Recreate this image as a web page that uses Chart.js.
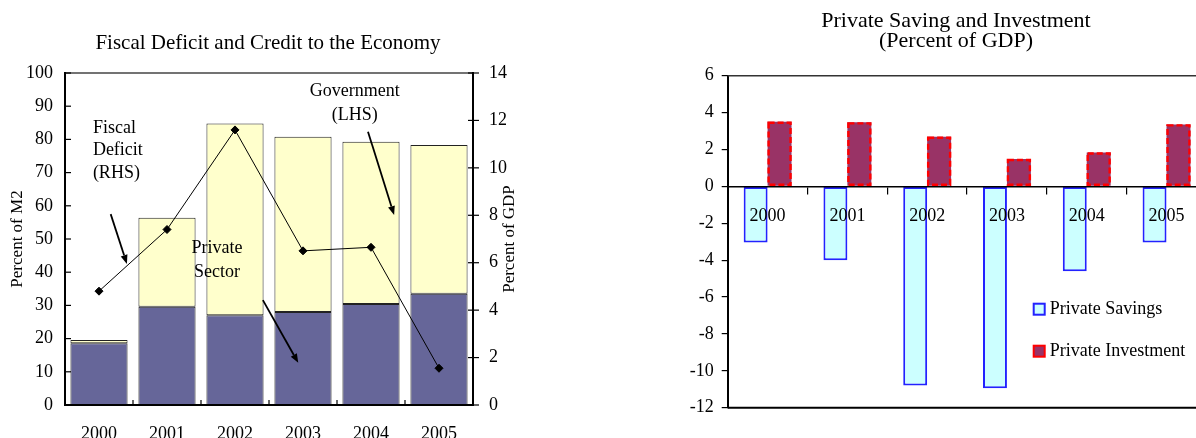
<!DOCTYPE html>
<html>
<head>
<meta charset="utf-8">
<script src="https://cdn.jsdelivr.net/npm/chart.js@4.4.1/dist/chart.umd.min.js"></script>
<style>
  html, body { margin: 0; padding: 0; background: #fff; overflow: hidden; width: 1196px; height: 438px; }
  canvas { position: absolute; top: 0; }
  #credit { left: 0; }
  #saving { left: 660px; }
</style>
</head>
<body>
<canvas id="credit" width="560" height="438"></canvas>
<canvas id="saving" width="592" height="438"></canvas>
<script>
// ---- data ----
const years = ['2000', '2001', '2002', '2003', '2004', '2005'];

// Credit to the economy, percent of M2 (left axis)
const privateCredit    = [18.6, 29.6, 27.0, 28.0, 30.4, 33.5];
const governmentCredit = [1.0, 26.8, 57.8, 52.8, 48.9, 44.8];
// Fiscal deficit, percent of GDP (right axis)
const fiscalDeficit    = [4.8, 7.4, 11.6, 6.5, 6.65, 1.55];

// Private saving and investment, percent of GDP
const privateSavings    = [-3.05, -4.0, -10.8, -10.95, -4.6, -3.05];
const privateInvestment = [3.5, 3.47, 2.69, 1.48, 1.84, 3.36];

// axis ranges [min, max, step]
const m2Range  = [0, 100, 10];
const gdpRange = [0, 14, 2];
const siRange  = [-12, 6, 2];

const SERIF = "'Liberation Serif', 'Times New Roman', 'DejaVu Serif', serif";
Chart.defaults.font.family = SERIF;
Chart.defaults.color = '#000';

function line(ctx, x1, y1, x2, y2) {
  ctx.beginPath(); ctx.moveTo(x1, y1); ctx.lineTo(x2, y2); ctx.stroke();
}

function arrow(ctx, x1, y1, x2, y2) {
  const ang = Math.atan2(y2 - y1, x2 - x1);
  const len = 9, half = 3.5;
  const bx = x2 - len * Math.cos(ang), by = y2 - len * Math.sin(ang);
  ctx.lineWidth = 1.8;
  line(ctx, x1, y1, bx, by);
  ctx.beginPath();
  ctx.moveTo(x2, y2);
  ctx.lineTo(bx + half * Math.sin(ang), by - half * Math.cos(ang));
  ctx.lineTo(bx - half * Math.sin(ang), by + half * Math.cos(ang));
  ctx.closePath();
  ctx.fill();
}

// Call-outs on the credit chart, placed in axis units (category index, % of M2)
const creditNotes = [
  { lines: ['Fiscal', 'Deficit', '(RHS)'], x: -0.09, y: 83.4, step: 6.8, align: 'left' },
  { lines: ['Private', 'Sector'], x: 1.735, y: 47.3, step: 7.4, align: 'center' },
  { lines: ['Government', '(LHS)'], x: 3.76, y: 94.6, step: 7.3, align: 'center' }
];
const creditArrows = [
  { from: [0.172, 57.5], to: [0.41, 42.5] },
  { from: [2.41, 31.6],  to: [2.93, 12.7] },
  { from: [3.956, 82.3], to: [4.34, 57.2] }
];

const creditDecor = {
  id: 'creditDecor',
  afterDraw(chart) {
    const { ctx, chartArea: a, scales } = chart;
    const { x, y, y1 } = scales;
    ctx.save();
    // plot frame
    ctx.strokeStyle = '#444'; ctx.lineWidth = 1.5;
    line(ctx, a.left, a.top, a.right, a.top);
    ctx.strokeStyle = '#000'; ctx.lineWidth = 2;
    line(ctx, a.left, a.top - 1, a.left, a.bottom + 1);
    line(ctx, a.right, a.top - 1, a.right, a.bottom + 1);
    line(ctx, a.left, a.bottom, a.right, a.bottom);
    // tick marks
    ctx.lineWidth = 1.2;
    y.ticks.forEach(t => { const p = y.getPixelForValue(t.value); line(ctx, a.left, p, a.left + 6, p); });
    y1.ticks.forEach(t => { const p = y1.getPixelForValue(t.value); line(ctx, a.right - 5, p, a.right + 6, p); });
    for (let i = 1; i < years.length; i++) {
      const p = (x.getPixelForTick(i - 1) + x.getPixelForTick(i)) / 2;
      line(ctx, p, a.bottom, p, a.bottom - 5);
    }
    // right axis title
    ctx.fillStyle = '#000';
    ctx.font = '17px ' + SERIF;
    ctx.textAlign = 'center'; ctx.textBaseline = 'middle';
    ctx.save();
    ctx.translate(a.right + 37, (a.top + a.bottom) / 2);
    ctx.rotate(-Math.PI / 2);
    ctx.fillText('Percent of GDP', 0, 0);
    ctx.restore();
    // call-outs
    ctx.font = '18px ' + SERIF;
    creditNotes.forEach(n => {
      ctx.textAlign = n.align;
      n.lines.forEach((s, i) => {
        ctx.fillText(s, x.getPixelForValue(n.x), y.getPixelForValue(n.y - i * n.step));
      });
    });
    ctx.strokeStyle = '#000';
    creditArrows.forEach(r => {
      arrow(ctx, x.getPixelForValue(r.from[0]), y.getPixelForValue(r.from[1]),
                 x.getPixelForValue(r.to[0]), y.getPixelForValue(r.to[1]));
    });
    ctx.restore();
  }
};

new Chart(document.getElementById('credit'), {
  type: 'bar',
  data: {
    labels: years,
    datasets: [
      {
        type: 'line', label: 'Fiscal Deficit (RHS)', data: fiscalDeficit, yAxisID: 'y1',
        borderColor: '#000', borderWidth: 1, tension: 0,
        pointStyle: 'rectRot', pointRadius: 4, pointBackgroundColor: '#000', pointBorderColor: '#000'
      },
      {
        label: 'Private Sector', data: privateCredit, yAxisID: 'y',
        backgroundColor: '#666699', borderColor: '#222', borderWidth: 1, borderSkipped: false
      },
      {
        label: 'Government', data: governmentCredit, yAxisID: 'y',
        backgroundColor: '#FFFFCC', borderColor: '#222', borderWidth: 1, borderSkipped: false
      }
    ]
  },
  options: {
    responsive: false, animation: false, devicePixelRatio: 1,
    layout: { padding: { left: 0, right: 24, top: 0, bottom: 0 } },
    datasets: { bar: { categoryPercentage: 1, barPercentage: 0.84 } },
    plugins: {
      legend: { display: false },
      tooltip: { enabled: false },
      title: {
        display: true, text: 'Fiscal Deficit and Credit to the Economy', color: '#000',
        font: { size: 21, weight: 'normal' }, padding: { top: 30.5, bottom: 17.3 }
      }
    },
    scales: {
      x: {
        stacked: true,
        grid: { display: false, drawTicks: false },
        border: { display: false },
        ticks: { font: { size: 18 }, padding: 18, maxRotation: 0, color: '#000' },
        afterFit(s) { s.height = 33; }
      },
      y: {
        stacked: true, min: m2Range[0], max: m2Range[1],
        grid: { display: false, drawTicks: false },
        border: { display: false },
        ticks: { stepSize: m2Range[2], font: { size: 18 }, padding: 12, color: '#000' },
        title: { display: true, text: 'Percent of M2', color: '#000', font: { size: 17 }, padding: { top: 7, bottom: 0 } },
        afterFit(s) { s.width = 65; }
      },
      y1: {
        position: 'right', min: gdpRange[0], max: gdpRange[1],
        grid: { display: false, drawTicks: false },
        border: { display: false },
        ticks: { stepSize: gdpRange[2], font: { size: 18 }, padding: 16, color: '#000' },
        afterFit(s) { s.width = 63; }
      }
    }
  },
  plugins: [creditDecor]
});

// ---- private saving and investment ----
const savingTitle = ['Private Saving and Investment', '(Percent of GDP)'];

const savingDecor = {
  id: 'savingDecor',
  afterDatasetsDraw(chart) {
    // dashed red outline of the investment bars
    const { ctx } = chart;
    const meta = chart.getDatasetMeta(1);
    ctx.save();
    ctx.strokeStyle = '#FF0000'; ctx.lineWidth = 2.4; ctx.setLineDash([6, 3]);
    meta.data.forEach(el => {
      const { x, y, base, width } = el.getProps(['x', 'y', 'base', 'width'], true);
      const top = Math.min(y, base), bot = Math.max(y, base);
      ctx.strokeRect(x - width / 2 + 1, top + 1, width - 2, bot - top - 2);
    });
    ctx.restore();
  },
  afterDraw(chart) {
    const { ctx, chartArea: a } = chart;
    ctx.save();
    // heading, centred on the canvas
    ctx.fillStyle = '#000';
    ctx.font = '22px ' + SERIF;
    ctx.textAlign = 'center'; ctx.textBaseline = 'middle';
    savingTitle.forEach((s, i) => ctx.fillText(s, chart.width / 2, 21.5 + i * 20));
    // plot frame top and bottom
    ctx.strokeStyle = '#333'; ctx.lineWidth = 1.5;
    line(ctx, a.left, a.top, a.right, a.top);
    ctx.strokeStyle = '#000'; ctx.lineWidth = 2;
    line(ctx, a.left, a.bottom, a.right, a.bottom);
    // legend inside the plot
    const ds = chart.data.datasets;
    const lx = a.left + 306, ly = [a.top + 233, a.top + 275];
    ctx.font = '18px ' + SERIF;
    ctx.textAlign = 'left';
    ds.forEach((d, i) => {
      ctx.fillStyle = d.backgroundColor;
      ctx.fillRect(lx, ly[i] - 5, 11, 11);
      ctx.strokeStyle = d.legendEdge; ctx.lineWidth = 2;
      ctx.strokeRect(lx, ly[i] - 5, 11, 11);
      ctx.fillStyle = '#000';
      ctx.fillText(d.label, lx + 16, ly[i] + 1);
    });
    ctx.restore();
  }
};

new Chart(document.getElementById('saving'), {
  type: 'bar',
  data: {
    labels: years,
    datasets: [
      {
        label: 'Private Savings', data: privateSavings,
        backgroundColor: '#CCFFFF', borderColor: '#2222FF', borderWidth: 2, borderSkipped: false,
        legendEdge: '#2222FF'
      },
      {
        label: 'Private Investment', data: privateInvestment,
        backgroundColor: '#993366', borderWidth: 0,
        legendEdge: '#FF0000'
      }
    ]
  },
  options: {
    responsive: false, animation: false, devicePixelRatio: 1,
    layout: { padding: { left: 0, right: 45.6, top: 75.7, bottom: 30.3 } },
    datasets: { bar: { categoryPercentage: 0.6, barPercentage: 1 } },
    plugins: {
      legend: { display: false },
      tooltip: { enabled: false },
      title: { display: false }
    },
    scales: {
      x: {
        position: { y: 0 },
        grid: { display: true, drawOnChartArea: false, drawTicks: true, tickLength: 7, color: '#000', lineWidth: 1.2, z: 1 },
        border: { display: true, color: '#000', width: 1.5, z: 1 },
        ticks: { font: { size: 18 }, padding: 12, maxRotation: 0, color: '#000', z: 1 },
        afterFit(s) { s.height = 0; }
      },
      y: {
        min: siRange[0], max: siRange[1],
        grid: { display: true, drawOnChartArea: false, drawTicks: true, tickLength: 6, color: '#000', lineWidth: 1.2 },
        border: { display: true, color: '#000', width: 2 },
        ticks: { stepSize: siRange[2], font: { size: 18 }, padding: 8, color: '#000' },
        afterFit(s) { s.width = 67.7; }
      }
    }
  },
  plugins: [savingDecor]
});
</script>
</body>
</html>
